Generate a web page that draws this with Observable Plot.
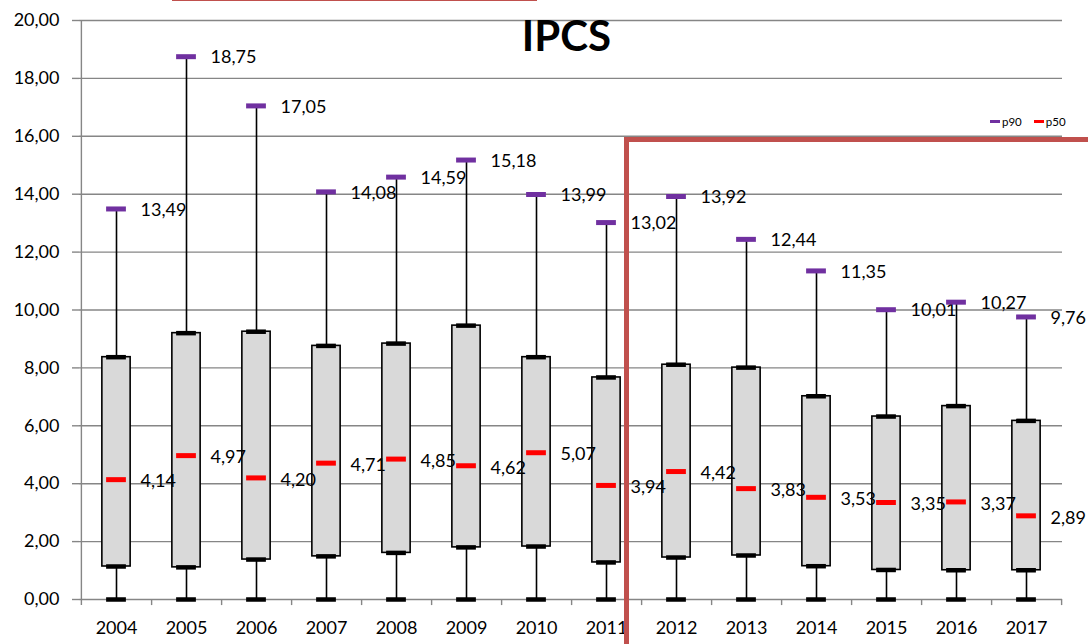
<!DOCTYPE html>
<html>
<head>
<meta charset="utf-8">
<script src="https://cdn.jsdelivr.net/npm/d3@7"></script>
<script src="https://cdn.jsdelivr.net/npm/@observablehq/plot@0.6"></script>
<style>
  html, body { margin: 0; padding: 0; background: #fff; }
  #wrap { position: relative; width: 1088px; height: 644px; overflow: hidden; font-family: Lato, "Open Sans", sans-serif; }
  #title { position: absolute; left: 0; width: 1133px; top: 14px; text-align: center; font-weight: bold; font-size: 42px; line-height: 1; color: #000; }
  .legend { position: absolute; top: 115px; left: 990px; font-size: 11.5px; color: #000; display: flex; align-items: center; gap: 2px; }
  .sw { display: inline-block; width: 10px; height: 3px; }
  .anno { position: absolute; background: #c0504d; }
</style>
</head>
<body>
<div id="wrap">
  <div id="chart"></div>
  <div id="title">IPCS</div>
  <div class="legend"><span class="sw" style="background:#7030a0"></span><span>p90</span><span style="width:8px"></span><span class="sw" style="background:#ff0000"></span><span>p50</span></div>
  <div class="anno" style="left:172px; top:-3px; width:365px; height:4px;"></div>
  <div class="anno" style="left:624px; top:137px; width:5px; height:520px;"></div>
  <div class="anno" style="left:624px; top:137px; width:470px; height:4.5px;"></div>
</div>
<script>
const years = ["2004","2005","2006","2007","2008","2009","2010","2011","2012","2013","2014","2015","2016","2017"];
const pMin = [0,0,0,0,0,0,0,0,0,0,0,0,0,0];
const p25 = [1.14,1.11,1.38,1.49,1.61,1.80,1.83,1.28,1.45,1.52,1.15,1.02,1.01,1.01];
const p50 = [4.14,4.97,4.20,4.71,4.85,4.62,5.07,3.94,4.42,3.83,3.53,3.35,3.37,2.89];
const p75 = [8.37,9.20,9.25,8.76,8.84,9.46,8.37,7.67,8.11,8.01,7.02,6.32,6.68,6.17];
const p90 = [13.49,18.75,17.05,14.08,14.59,15.18,13.99,13.02,13.92,12.44,11.35,10.01,10.27,9.76];
const yTicks = [0,2,4,6,8,10,12,14,16,18,20];

const rows = years.map((y, i) => ({year: y, min: pMin[i], q1: p25[i], med: p50[i], q3: p75[i], hi: p90[i]}));
const fmt = v => v.toFixed(2).replace(".", ",");

const W = 1088, H = 644, ML = 79, MR = 26, MT = 20, MB = 45;
const bw = (W - ML - MR) / years.length;
const grid = "#868686";
const boxInset = (bw - 28.5) / 2;
const dashInset = (bw - 20) / 2;

const chart = Plot.plot({
  width: W, height: H,
  marginLeft: ML, marginRight: MR, marginTop: MT, marginBottom: MB,
  style: {fontFamily: "Lato, 'Open Sans', sans-serif", background: "#fff"},
  x: {type: "band", domain: years, padding: 0, label: null},
  y: {domain: [0, 20], label: null},
  marks: [
    Plot.ruleY(yTicks, {y: d => d, stroke: grid, strokeWidth: 1.4}),
    Plot.axisY({ticks: yTicks, tickFormat: fmt, tickSize: 7, tickPadding: 13, stroke: grid, strokeWidth: 1.4, fill: "#000", fontSize: 18, label: null}),
    Plot.axisX({tickSize: 0, tickPadding: 22, fill: "#000", fontSize: 18, label: null}),
    // axis line and category boundary ticks
    Plot.ruleX([years[0]], {x: d => d, y1: -0.21, y2: 20, dx: -bw / 2, stroke: grid, strokeWidth: 1.4}),
    Plot.ruleX(years, {x: d => d, y1: -0.21, y2: 0, dx: bw / 2, stroke: grid, strokeWidth: 1.4}),
    // whiskers
    Plot.ruleX(rows, {x: "year", y1: "min", y2: "q1", stroke: "#000", strokeWidth: 1.6}),
    Plot.ruleX(rows, {x: "year", y1: "q3", y2: "hi", stroke: "#000", strokeWidth: 1.6}),
    // boxes
    Plot.rectY(rows, {x: "year", y1: "q1", y2: "q3", fill: "#d9d9d9", stroke: "#000", strokeWidth: 1.6, insetLeft: boxInset, insetRight: boxInset}),
    // dashes
    Plot.tickY(rows, {x: "year", y: "min", stroke: "#000", strokeWidth: 4.5, insetLeft: dashInset, insetRight: dashInset}),
    Plot.tickY(rows, {x: "year", y: "q1", stroke: "#000", strokeWidth: 4.5, insetLeft: dashInset, insetRight: dashInset}),
    Plot.tickY(rows, {x: "year", y: "q3", stroke: "#000", strokeWidth: 4.5, insetLeft: dashInset, insetRight: dashInset}),
    // labels
    Plot.text(rows, {x: "year", y: "hi", text: d => fmt(d.hi), dx: 24, dy: 1, textAnchor: "start", fontSize: 18, fill: "#000"}),
    Plot.text(rows, {x: "year", y: "med", text: d => fmt(d.med), dx: 24, dy: 2, textAnchor: "start", fontSize: 18, fill: "#000"}),
    Plot.tickY(rows, {x: "year", y: "hi", stroke: "#7030a0", strokeWidth: 5, insetLeft: dashInset, insetRight: dashInset}),
    Plot.tickY(rows, {x: "year", y: "med", stroke: "#ff0000", strokeWidth: 5, insetLeft: dashInset, insetRight: dashInset})
  ]
});
document.getElementById("chart").appendChild(chart);
</script>
</body>
</html>
